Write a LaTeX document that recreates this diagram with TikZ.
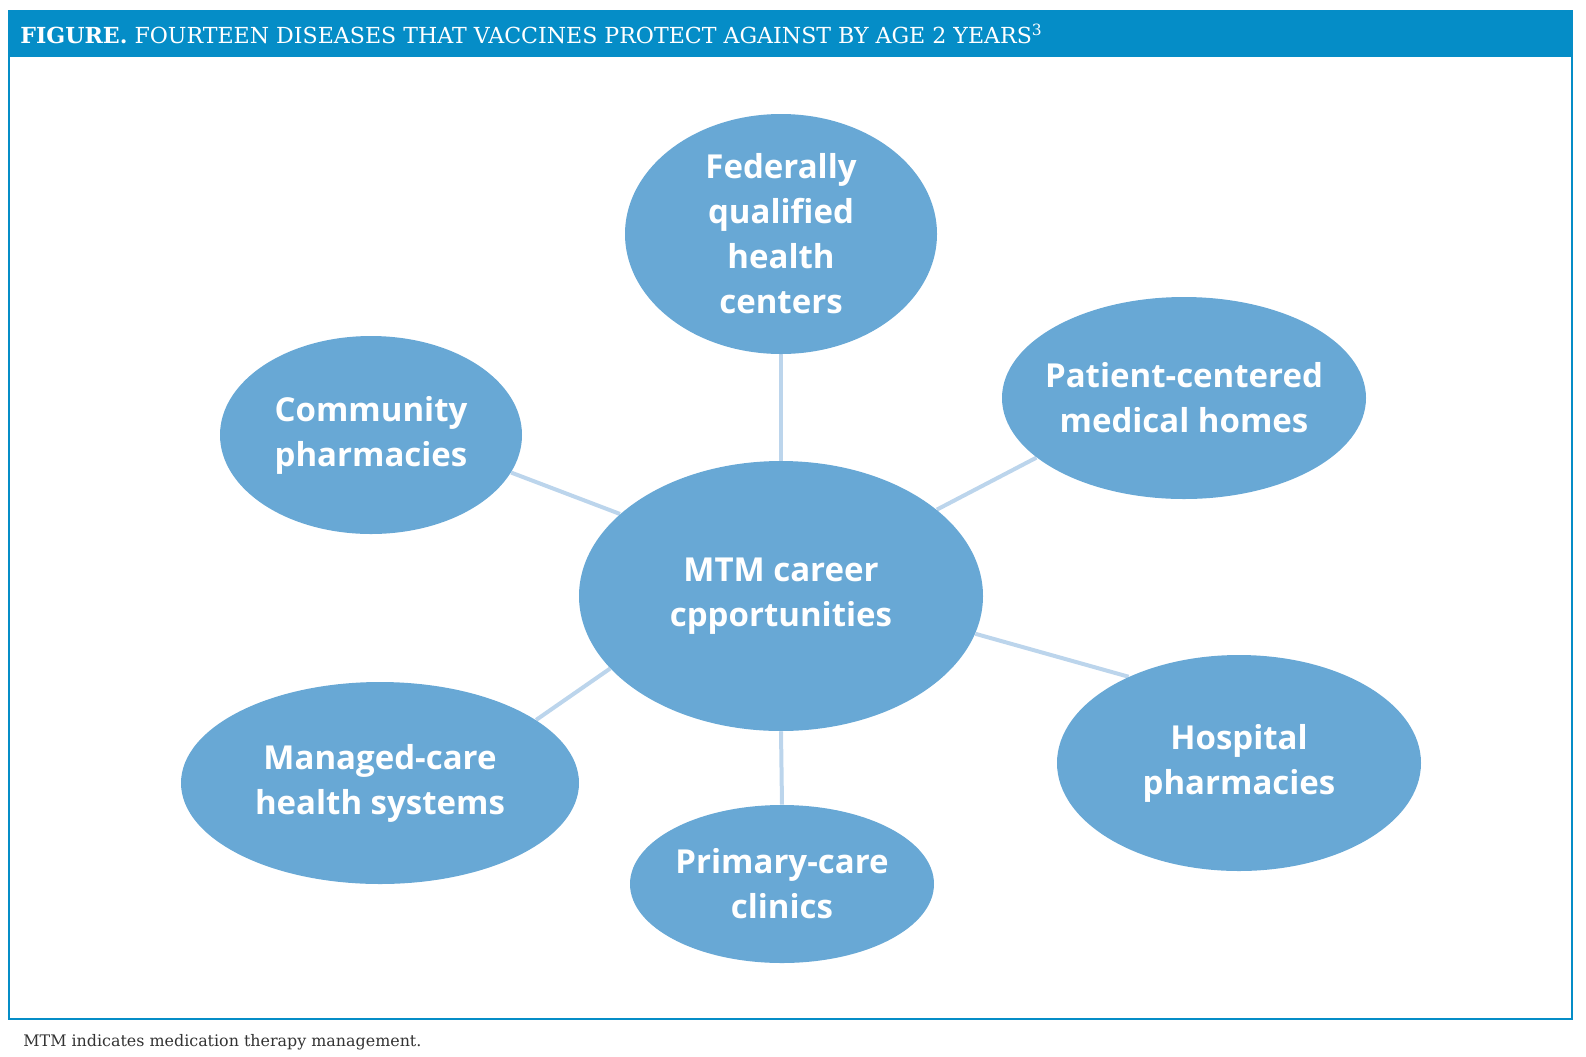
\documentclass[tikz,border=0pt]{standalone}
\usepackage{fontspec}
\setmainfont{DejaVu Serif}
\newfontfamily\bubblefont{Open Sans}
\usepackage{tikz}
\usetikzlibrary{shapes}
\usetikzlibrary{backgrounds}
\definecolor{bandblue}{HTML}{058DC7}
\definecolor{bubbleblue}{HTML}{68A8D5}
\definecolor{linkblue}{HTML}{BCD5EC}
\definecolor{notegray}{HTML}{333333}

\begin{document}
\begin{tikzpicture}[
    x=0.5pt, y=-0.5pt,    % one unit is one pixel of the reference, y going down
    ]
% -------------------------------------------------
\tikzset{
  bubble/.style={ellipse, fill=bubbleblue, inner sep=0pt, align=center,
    text=white, font=\bubblefont\bfseries\fontsize{16.5}{22.5}\selectfont},
  link/.style={draw=linkblue, line width=2pt},
  frame/.style={draw=bandblue, line width=1.2pt}
}
% -------------------------------------------------
\useasboundingbox (0,0) rectangle (1586,1056);

% Header band and frame
\fill[bandblue] (8,10) rectangle (1573,57);
\draw[frame] (9,57) -- (9,1019) -- (1572,1019) -- (1572,57);
\node[anchor=base west, inner sep=0pt, text=white,
  font=\fontsize{11.05}{12}\selectfont] (title) at (20,43)
  {\textbf{FIGURE.} FOURTEEN DISEASES THAT VACCINES PROTECT AGAINST BY AGE 2 YEARS\textsuperscript{3}};

% Placing the nodes
\node[bubble, minimum width=202pt, minimum height=135pt] (c0) at (781,596) {MTM career\\cpportunities};
\node[bubble, minimum width=156pt, minimum height=120pt] (b0) at (781,234) {Federally\\qualified\\health\\centers};
\node[bubble, minimum width=151pt, minimum height=99pt] (b1) at (371,435) {Community\\pharmacies};
\node[bubble, minimum width=182pt, minimum height=101pt, inner xsep=-25pt] (b2) at (1184,398) {Patient-centered\\medical homes};
\node[bubble, minimum width=199pt, minimum height=101pt] (b3) at (380,783) {Managed-care\\health systems};
\node[bubble, minimum width=152pt, minimum height=79pt] (b4) at (782,884) {Primary-care\\clinics};
\node[bubble, minimum width=182pt, minimum height=108pt] (b5) at (1239,763) {Hospital\\pharmacies};

% Connectors
\begin{pgfonlayer}{background}
  \path[link] (c0.north) -- (b0.south);
  \path[link] (c0.153) -- (b1.-15.3);
  \path[link] (c0.29.1) -- (b2.202.2);
  \path[link] (c0.203.1) -- (b3.22.7);
  \path[link] (c0.south) -- (b4.north);
  \path[link] (c0.-11.9) -- (b5.142.8);
\end{pgfonlayer}

\node[anchor=base west, inner sep=0pt, text=notegray,
  font=\fontsize{7.95}{10}\selectfont] (note) at (23,1046)
  {MTM indicates medication therapy management.};

\end{tikzpicture}
\end{document}
